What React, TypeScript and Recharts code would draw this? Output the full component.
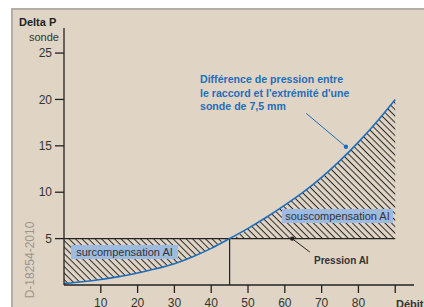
import { ComposedChart, Line, Area, XAxis, YAxis, ReferenceLine, ReferenceDot } from 'recharts';

// Débit (x) and Delta P sonde (y)
const debit = [0, 5, 10, 15, 20, 25, 30, 35, 40, 45, 50, 55, 60, 65, 70, 75, 80, 85, 90];
const deltaP = [0.15, 0.35, 0.6, 0.9, 1.3, 1.75, 2.3, 3.05, 3.95, 5.0, 6.1, 7.3, 8.6, 10.0, 11.6, 13.4, 15.4, 17.6, 20];
const pressionAI = 5;
const xTicks = [10, 20, 30, 40, 50, 60, 70, 80, 90];
const yTicks = [5, 10, 15, 20, 25];

const data = debit.map((x, i) => ({
  x,
  curve: deltaP[i],
  // hatched band between the curve and the AI pressure line
  band: [Math.min(deltaP[i], pressionAI), Math.max(deltaP[i], pressionAI)],
}));

const INK = '#222';
const BLUE = '#1f6dbb';
const BOX = '#9dbbe1';

const App = () => {
  return (
    <div style={{ position: 'absolute', left: 0, top: 0, width: 424, height: 307, overflow: 'hidden', background: '#fff', fontFamily: '"Liberation Sans", Arial, sans-serif' }}>
      <div style={{ position: 'absolute', left: 11, top: 8, right: 0, bottom: 0, background: '#e0d5c5', borderLeft: '2px solid #b4aea6', borderTop: '2px solid #b4aea6' }} />
      <div style={{ position: 'absolute', left: 0, top: 0 }}>
        <ComposedChart width={424} height={307} data={data} margin={{ top: 28, right: 10, left: 0, bottom: 0 }}>
          <defs>
            <pattern id="hatch" patternUnits="userSpaceOnUse" width="4.6" height="4.6" patternTransform="rotate(45)">
              <line x1="0" y1="0.5" x2="4.6" y2="0.5" stroke="#2a2a2a" strokeWidth="1" />
            </pattern>
          </defs>
          <XAxis
            dataKey="x"
            type="number"
            domain={[0, 95.1]}
            ticks={xTicks}
            tickFormatter={(v: number) => (v === 90 ? '' : String(v))}
            height={22}
            axisLine={{ stroke: INK, strokeWidth: 1.3 }}
            tickLine={{ stroke: INK, strokeWidth: 1.3 }}
            tickSize={8}
            tickMargin={5}
            tick={{ fontSize: 12, fill: '#333' }}
          />
          <YAxis
            type="number"
            domain={[0, 27.7]}
            ticks={yTicks}
            width={64}
            axisLine={{ stroke: INK, strokeWidth: 1.3 }}
            tickLine={{ stroke: INK, strokeWidth: 1.3 }}
            tickSize={9}
            tickMargin={3}
            tick={{ fontSize: 12, fill: '#333' }}
          />
          <Area dataKey="band" type="monotone" stroke="none" fill="url(#hatch)" fillOpacity={1} isAnimationActive={false} />
          <ReferenceLine segment={[{ x: 0, y: pressionAI }, { x: 90, y: pressionAI }]} stroke={INK} strokeWidth={1.3} />
          <ReferenceLine segment={[{ x: 45, y: 0 }, { x: 45, y: pressionAI }]} stroke={INK} strokeWidth={1.2} />
          <Line dataKey="curve" type="monotone" stroke={BLUE} strokeWidth={1.6} dot={false} isAnimationActive={false} />
          <ReferenceLine segment={[{ x: 65.8, y: 18.5 }, { x: 76.6, y: 14.9 }]} stroke={BLUE} strokeWidth={1} />
          <ReferenceDot x={76.6} y={14.9} r={2.2} fill={BLUE} stroke="none" />
          <ReferenceLine segment={[{ x: 62, y: 5 }, { x: 66.8, y: 3.55 }]} stroke={INK} strokeWidth={1} />
          <ReferenceDot x={62} y={5} r={2.2} fill={INK} stroke="none" />
        </ComposedChart>
      </div>
      <div style={{ position: 'absolute', left: 19, top: 16, fontSize: 11, fontWeight: 'bold', color: '#222' }}>Delta P</div>
      <div style={{ position: 'absolute', left: 29, top: 31, fontSize: 11, color: '#333' }}>sonde</div>
      <div style={{ position: 'absolute', left: 200, top: 73, fontSize: 10.6, fontWeight: 'bold', color: BLUE, lineHeight: '13.5px' }}>
        Différence de pression entre<br />le raccord et l'extrémité d'une<br />sonde de 7,5 mm
      </div>
      <div style={{ position: 'absolute', left: 71, top: 245, width: 107, height: 14, background: BOX, fontSize: 11, color: '#333', lineHeight: '14px', textAlign: 'center' }}>surcompensation AI</div>
      <div style={{ position: 'absolute', left: 282, top: 209, width: 111, height: 14, background: BOX, fontSize: 11, color: '#333', lineHeight: '14px', textAlign: 'center' }}>souscompensation AI</div>
      <div style={{ position: 'absolute', left: 314, top: 255, fontSize: 10, fontWeight: 'bold', color: '#333' }}>Pression AI</div>
      <div style={{ position: 'absolute', left: 396, top: 298, fontSize: 11, fontWeight: 'bold', color: '#333' }}>Débit</div>
      <div style={{ position: 'absolute', left: 30, top: 260, fontSize: 12, color: '#9a958e', transform: 'translate(-50%, -50%) rotate(-90deg)', whiteSpace: 'nowrap' }}>D-18254-2010</div>
    </div>
  );
};

export default App;
